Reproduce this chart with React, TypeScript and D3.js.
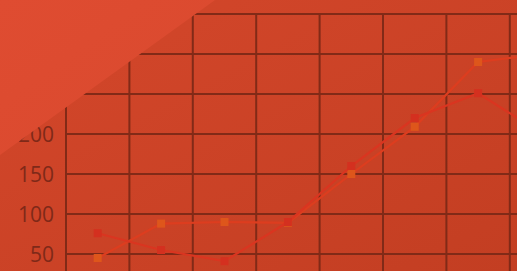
import { useEffect, useRef } from 'react'
import * as d3 from 'd3'

const categories = ['Jan', 'Feb', 'Mar', 'Apr', 'May', 'Jun', 'Jul', 'Aug', 'Sep']
const seriesA = [76, 55, 41, 90, 160, 220, 251, 201, 180]
const seriesB = [45, 88, 90, 89, 150, 209, 290, 300, 310]
const yTicks = [0, 50, 100, 150, 200, 250, 300, 350]

export default function App() {
  const svgRef = useRef<SVGSVGElement>(null)

  useEffect(() => {
    document.body.style.margin = '0'
    if (!svgRef.current) return
    const svg = d3.select(svgRef.current)
    svg.selectAll('*').remove()

    const width = 517
    const height = 271

    const x = d3.scaleBand<string>()
      .domain(categories)
      .range([66, 66 + categories.length * 63.4])
      .paddingInner(0)
      .paddingOuter(0)

    const y = d3.scaleLinear().domain([0, 350]).range([294, 14])

    const defs = svg.append('defs')
    const bg = defs.append('linearGradient')
      .attr('id', 'bgGrad')
      .attr('x1', '0%').attr('y1', '0%')
      .attr('x2', '100%').attr('y2', '100%')
    bg.append('stop').attr('offset', '0%').attr('stop-color', '#d4472b')
    bg.append('stop').attr('offset', '100%').attr('stop-color', '#c33e22')

    const shine = defs.append('linearGradient')
      .attr('id', 'shineGrad')
      .attr('x1', '0%').attr('y1', '0%')
      .attr('x2', '100%').attr('y2', '100%')
    shine.append('stop').attr('offset', '0%').attr('stop-color', '#df4c31')
    shine.append('stop').attr('offset', '100%').attr('stop-color', '#d9492e')

    svg.append('rect')
      .attr('width', width)
      .attr('height', height)
      .attr('fill', 'url(#bgGrad)')

    const grid = svg.append('g')
      .attr('stroke', '#7a2816')
      .attr('stroke-width', 2)
      .attr('opacity', 0.9)

    // horizontal grid
    grid.selectAll('line.h')
      .data(yTicks)
      .join('line')
      .attr('class', 'h')
      .attr('x1', x.range()[0])
      .attr('x2', x.range()[1])
      .attr('y1', d => y(d))
      .attr('y2', d => y(d))

    // vertical grid at band edges
    const edges = [...categories.map(c => x(c) as number), x.range()[1]]
    grid.selectAll('line.v')
      .data(edges)
      .join('line')
      .attr('class', 'v')
      .attr('x1', d => d)
      .attr('x2', d => d)
      .attr('y1', y(350))
      .attr('y2', y(0))

    // y labels
    svg.append('g')
      .selectAll('text')
      .data(yTicks.filter(d => d > 0))
      .join('text')
      .attr('x', 54)
      .attr('y', d => y(d))
      .attr('dy', '0.36em')
      .attr('text-anchor', 'end')
      .attr('font-family', '"Open Sans", sans-serif')
      .attr('font-size', 21)
      .attr('fill', '#772717')
      .attr('opacity', 0.9)
      .text(d => d)

    const cx = (c: string) => (x(c) as number) + x.bandwidth() / 2
    const line = d3.line<number>()
      .x((_, i) => cx(categories[i]))
      .y(d => y(d))

    const drawSeries = (values: number[], lineColor: string, markColor: string) => {
      const g = svg.append('g')
      g.append('path')
        .datum(values)
        .attr('d', line)
        .attr('fill', 'none')
        .attr('stroke', lineColor)
        .attr('stroke-width', 2.2)
      g.selectAll('rect')
        .data(values)
        .join('rect')
        .attr('x', (_, i) => cx(categories[i]) - 4)
        .attr('y', d => y(d) - 4)
        .attr('width', 8)
        .attr('height', 8)
        .attr('fill', markColor)
    }

    drawSeries(seriesB, '#dd3d1f', '#de561b')
    drawSeries(seriesA, '#da3520', '#d4301f')

    // glossy shine triangle in the top-left corner
    svg.append('polygon')
      .attr('points', [[0, 0], [215, 0], [0, 155]].map(p => p.join(',')).join(' '))
      .attr('fill', 'url(#shineGrad)')
  }, [])

  return <svg ref={svgRef} width={517} height={271} style={{ display: 'block' }} />
}
